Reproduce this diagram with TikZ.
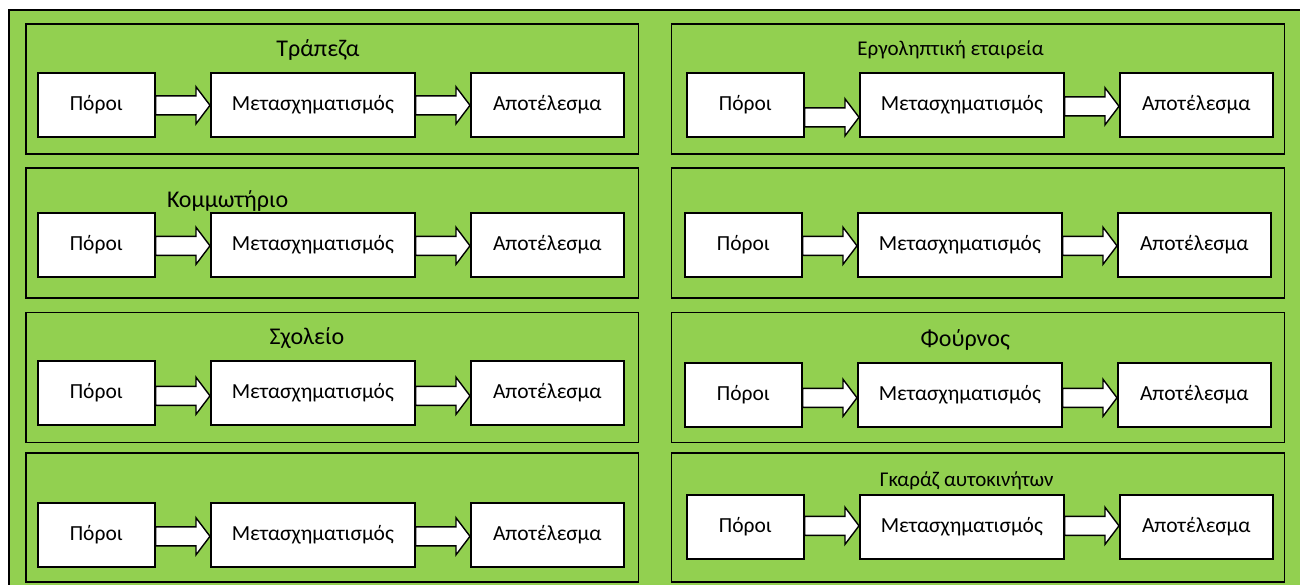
\documentclass[tikz,border=0pt]{standalone}
\usepackage{fontspec}
\setmainfont{Carlito}
\usetikzlibrary{calc}
\definecolor{officegreen}{HTML}{92D050}
\tikzset{
  frame/.style={draw=black,line width=1.6pt,fill=officegreen},
  box/.style={draw=black,line width=1.6pt,fill=white,inner sep=0pt,minimum height=64pt,
    font=\fontsize{21.5}{24}\selectfont,text height=13.8pt,text depth=1.5pt,anchor=north west},
  arr/.style={draw=black,line width=1.4pt,fill=white,line join=miter},
  ttl/.style={anchor=base,inner sep=0pt,font=\fontsize{24}{28}\selectfont},
  ttlsmall/.style={anchor=base,inner sep=0pt,font=\fontsize{21}{24}\selectfont}
}
\newcommand\blockarr[3]{%
  \draw[arr] ($(#1.east)+(0,{#3-9.5})$) -- ($(#2.west)+(-14,{#3-9.5})$)
    -- ($(#2.west)+(-14,{#3-18.5})$) -- ($(#2.west)+(0,#3)$)
    -- ($(#2.west)+(-14,{#3+18.5})$) -- ($(#2.west)+(-14,{#3+9.5})$)
    -- ($(#1.east)+(0,{#3+9.5})$) -- cycle;}
\newcommand\flowrow[5]{%
  \node[box,minimum width=117pt] (#1p) at (#2,#3) {Πόροι};
  \node[box,minimum width=204pt] (#1m) at ({#2+173},#3) {Μετασχηματισμός};
  \node[box,minimum width=153pt] (#1a) at ({#2+433},#3) {Αποτέλεσμα};
  \blockarr{#1p}{#1m}{#4}
  \blockarr{#1m}{#1a}{#5}}
\begin{document}
\begin{tikzpicture}[x=1pt,y=-1pt]
\useasboundingbox (0,0) rectangle (1300,584);
\clip (0,0) rectangle (1300,584);
\fill[white] (0,0) rectangle (1300,584);
\draw[frame] (9,10) rectangle (1320,620);
% panels
\foreach \t/\b in {24/154,168/298,312.3/442.3,453/581.7}{
  \draw[frame] (25.7,\t) rectangle (638.5,\b);
  \draw[frame] (671.6,\t) rectangle (1284.3,\b);
}
% left column
\node[ttl] (t1) at (318,56.5) {Τράπεζα};
\flowrow{la}{37}{72}{0.5}{0.5}
\node[ttl,anchor=base west] (t2) at (167,207.3) {Κομμωτήριο};
\flowrow{lb}{37}{212}{1}{1}
\node[ttl] (t3) at (307,344.3) {Σχολείο};
\flowrow{lc}{37}{360}{3}{3}
\flowrow{ld}{37}{502}{1.5}{1.5}
% right column
\node[ttlsmall] (t5) at (950.6,55) {Εργοληπτική εταιρεία};
\flowrow{ra}{686}{72}{12.5}{1.5}
\flowrow{rb}{684}{212}{1}{1}
\node[ttl] (t7) at (965.3,346.5) {Φούρνος};
\flowrow{rc}{684}{362}{3}{3}
\node[ttlsmall] (t8) at (966.7,486.7) {Γκαράζ αυτοκινήτων};
\flowrow{rd}{686}{494}{-1}{-1}
\end{tikzpicture}
\end{document}
